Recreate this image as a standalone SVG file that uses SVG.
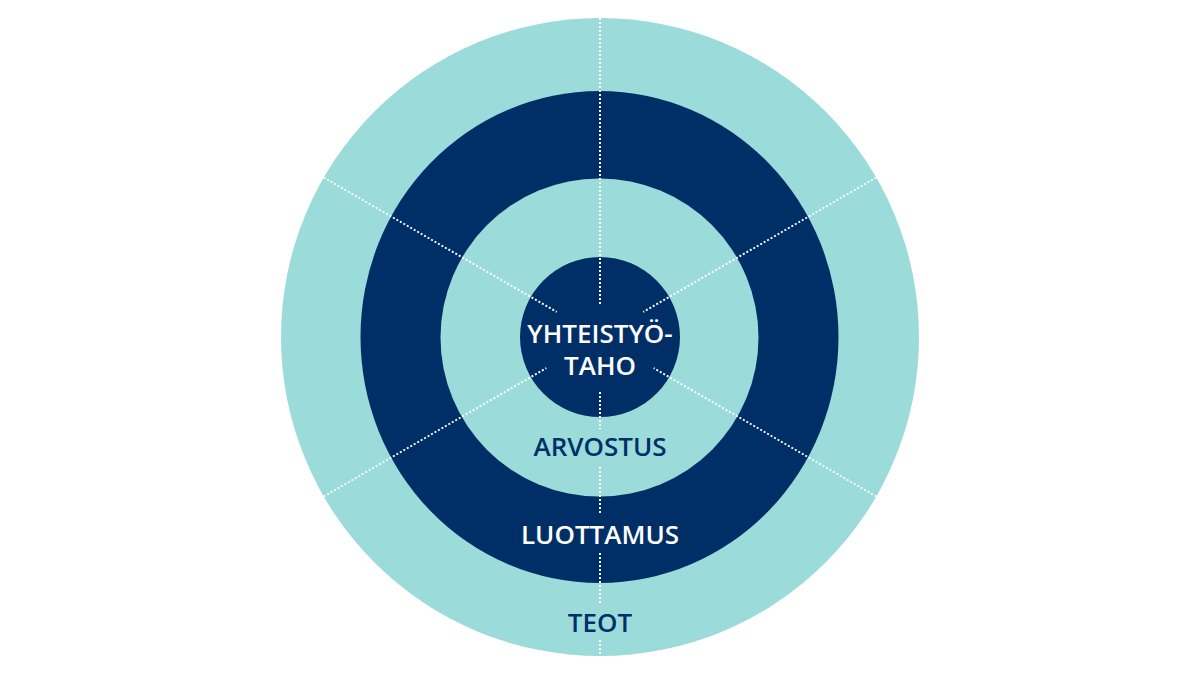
<svg xmlns="http://www.w3.org/2000/svg" width="1200" height="675" viewBox="0 0 1200 675">
  <style>
    .light { fill: #9BDCDA; }
    .dark { fill: #002F68; }
    .spoke { stroke: #FFFFFF; stroke-width: 2; stroke-dasharray: 2 2; fill: none; }
    .lbl { font-family: "Open Sans", "Noto Sans", sans-serif; font-weight: 600; font-size: 26px; text-anchor: middle; }
    .w { fill: #FFFFFF; }
    .n { fill: #002F68; }
  </style>
  <rect width="1200" height="675" fill="#FFFFFF"/>
  <g id="ring-teot">
    <circle class="light" cx="600" cy="337" r="319"/>
  </g>
  <g id="ring-luottamus">
    <ellipse class="dark" cx="599.5" cy="337" rx="239" ry="246"/>
  </g>
  <g id="ring-arvostus">
    <circle class="light" cx="599.5" cy="337.5" r="159"/>
  </g>
  <g id="core">
    <circle class="dark" cx="600" cy="337" r="80"/>
  </g>
  <g id="connectors">
    <line class="spoke" x1="600" y1="18" x2="600" y2="305"/>
    <line class="spoke" x1="600" y1="392" x2="600" y2="429"/>
    <line class="spoke" x1="600" y1="467" x2="600" y2="513"/>
    <line class="spoke" x1="600" y1="553" x2="600" y2="605"/>
    <line class="spoke" x1="600" y1="640" x2="600" y2="656"/>
    <line class="spoke" x1="323.7" y1="177.5" x2="556.7" y2="312"/>
    <line class="spoke" x1="876.3" y1="177.5" x2="643.3" y2="312"/>
    <line class="spoke" x1="323.7" y1="496.5" x2="546.3" y2="368"/>
    <line class="spoke" x1="876.3" y1="496.5" x2="653.7" y2="368"/>
  </g>
  <g id="labels">
    <text class="lbl w" x="600" y="343">YHTEISTYÖ-<tspan x="600" y="375">TAHO</tspan></text>
    <text class="lbl n" x="600" y="456">ARVOSTUS</text>
    <text class="lbl w" x="600" y="544">LUOTTAMUS</text>
    <text class="lbl n" x="600" y="632">TEOT</text>
  </g>
</svg>
